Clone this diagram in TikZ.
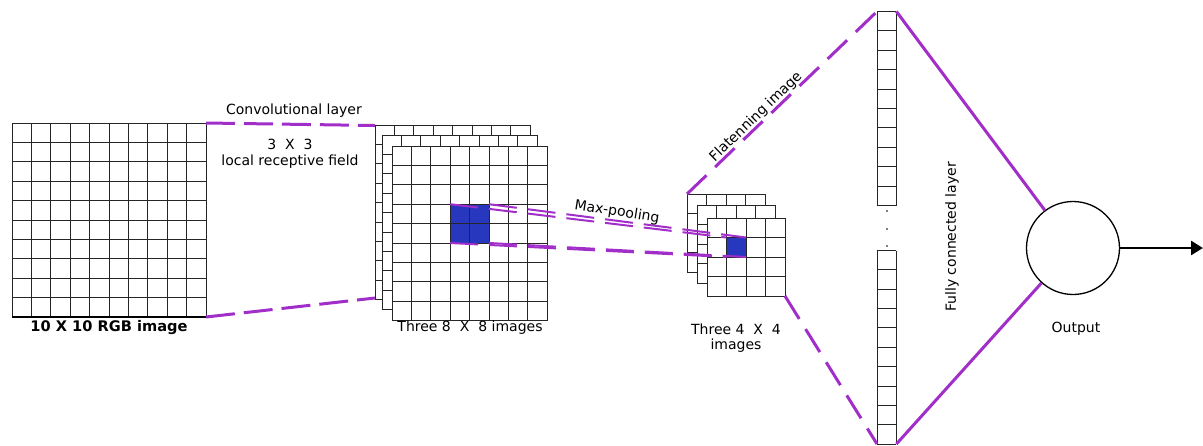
\documentclass[tikz,border=0pt]{standalone}
\usepackage{fontspec}
\setmainfont{DejaVu Sans}
\usetikzlibrary{arrows.meta}
\definecolor{linkpurple}{RGB}{162,46,201}
\definecolor{poolblue}{RGB}{40,56,190}
\tikzset{
  gridline/.style={draw=black!85, line width=0.9pt},
  convlink/.style={draw=linkpurple, line width=3pt, dash pattern=on 29pt off 9pt},
  poollink/.style={draw=linkpurple, line width=2pt, dash pattern=on 28pt off 11pt},
  flatlink/.style={draw=linkpurple, line width=3pt, dash pattern=on 27pt off 12pt},
  denselink/.style={draw=linkpurple, line width=3pt},
  label/.style={font=\fontsize{14}{16}\selectfont, inner sep=1pt},
}
% a block of cells: x0, y0, columns, rows, cell size
\newcommand{\cellgrid}[5]{%
  \fill[white] (#1,#2) rectangle ++({#3*#5},{#4*#5});
  \foreach \i in {0,...,#3} \draw[gridline] ({#1+\i*#5},#2) -- ++(0,{#4*#5});
  \foreach \j in {0,...,#4} \draw[gridline] (#1,{#2+\j*#5}) -- ++({#3*#5},0);
}
\begin{document}
\begin{tikzpicture}[x=1pt,y=-1pt]
\useasboundingbox (0,0) rectangle (1203,445);

% input image 10 x 10
\cellgrid{12}{123}{10}{10}{19.4}
\draw[black, line width=1.6pt] (12,317) -- (206,317);
\coordinate (inTR) at (206,123);
\coordinate (inBR) at (206,317);
\node[label, font=\fontsize{14.6}{16}\selectfont\bfseries] (inlab) at (109,328) {10 X 10 RGB image};

% three feature maps 8 x 8
\cellgrid{375}{125}{8}{9}{19.4}
\cellgrid{382}{135}{8}{9}{19.4}
\cellgrid{392}{146}{8}{9}{19.4}
\coordinate (fmTL) at (375,125.5);
\coordinate (fmBL) at (375,298);
\fill[poolblue] (450.2,204.2) rectangle (489,243);
\draw[gridline] (450.2,204.2) rectangle (489,243);
\draw[gridline] (469.6,204.2) -- (469.6,243);
\draw[gridline] (450.2,223.6) -- (489,223.6);
\coordinate (bigA) at (450.2,204.2);
\coordinate (bigB) at (489,204.2);
\coordinate (bigC) at (450.2,243);
\coordinate (bigD) at (489,243);
\node[label] (fmlab) at (470,328) {Three 8\ \ X\ \ 8 images};

% three pooled maps 4 x 4
\cellgrid{687}{194}{4}{4}{19.5}
\cellgrid{697}{205}{4}{4}{19.5}
\cellgrid{707}{218}{4}{4}{19.5}
\fill[poolblue] (726.5,237.5) rectangle (746,257);
\draw[gridline] (726.5,237.5) rectangle (746,257);
\coordinate (smA) at (726.5,237.5);
\coordinate (smB) at (746,237.5);
\coordinate (smC) at (726.5,257);
\coordinate (smD) at (746,257);
\coordinate (plTL) at (687,194);
\coordinate (plBR) at (785,296);
\node[label] (pllab1) at (736,329) {Three 4\ \ X\ \ 4};
\node[label] (pllab2) at (736,346) {images};

% flattened vector
\cellgrid{877}{11.5}{1}{10}{19.4}
\cellgrid{877}{250.5}{1}{10}{19.35}
\foreach \yy [count=\k] in {211,229,246}
  \fill[black] (887,\yy) circle (0.9pt);
\coordinate (vTL) at (877,11.5);
\coordinate (vTR) at (896.4,11.5);
\coordinate (vBL) at (877,444);
\coordinate (vBR) at (896.4,444);

% output neuron
\node[circle, draw=black, line width=1.3pt, minimum size=93pt, inner sep=0pt] (out) at (1073,248) {};
\coordinate (arrowend) at (1203,248);

% convolution links
\draw[convlink] (inTR) -- (fmTL);
\draw[convlink] (inBR) -- (fmBL);
\node[label] (convlab) at (294,111) {Convolutional layer};
\node[label] (k33) at (290,144) {3\ \ X\ \ 3};
\node[label] (lrf) at (290,162) {local receptive field};

% max-pooling links
\draw[poollink] (bigA) -- (smA);
\draw[poollink] (bigB) -- (smB);
\draw[poollink] (bigC) -- (smC);
\draw[poollink] (bigD) -- (smD);
\node[label, rotate=-9] (poollab) at (617,212) {Max-pooling};

% flattening links
\draw[flatlink] (plTL) -- (vTL);
\draw[flatlink] (plBR) -- (vBL);
\node[label, rotate=44] (flatlab) at (756,117) {Flatenning image};

% fully connected links
\draw[denselink] (vTR) -- (out);
\draw[denselink] (vBR) -- (out);
\node[label, rotate=90] (fclab) at (952,237) {Fully connected layer};

% output arrow
\draw[line width=2.6pt, -{Triangle[length=12pt,width=14pt]}] (out.east) -- (arrowend);
\node[label] (outlab) at (1076,329) {Output};
\end{tikzpicture}
\end{document}
